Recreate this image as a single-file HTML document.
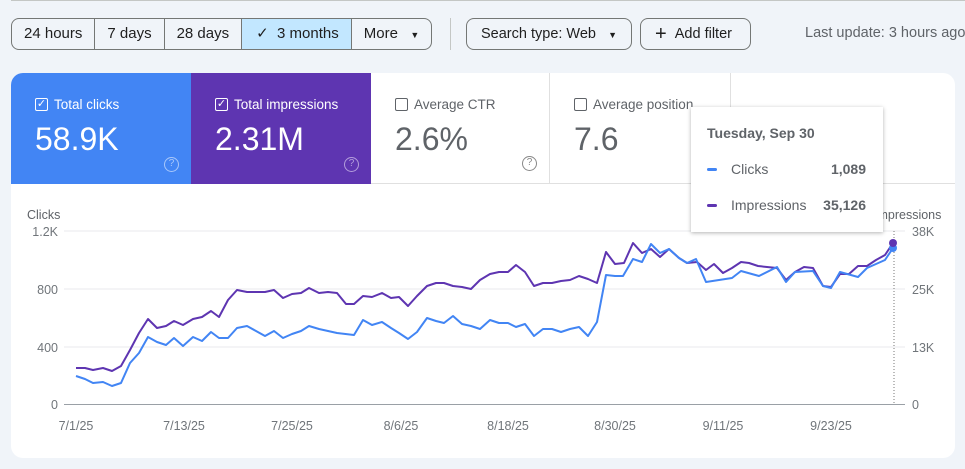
<!DOCTYPE html>
<html><head><style>
*{box-sizing:border-box;margin:0;padding:0}
body{width:965px;height:469px;background:#f0f4f9;font-family:"Liberation Sans",sans-serif;position:relative;overflow:hidden;color:#444}
.topline{position:absolute;left:11px;right:0;top:0;height:2px;border-top:1px solid #c4c7c5}
.seg{position:absolute;top:18px;height:32px;display:flex;border:1px solid #747775;border-radius:8px;overflow:hidden;left:11px;white-space:nowrap}
.seg div{border-right:1px solid #747775;padding:0 12px;line-height:30px;font-size:15px;color:#1f1f1f}
.seg div:last-child{border-right:none}
.btn{position:absolute;top:18px;height:32px;border:1px solid #747775;border-radius:8px;line-height:30px;font-size:14.5px;color:#1f1f1f;padding:0 14px;white-space:nowrap}
.card{position:absolute;left:11px;top:73px;width:944px;height:385px;background:#fff;border-radius:12px;overflow:hidden}
.tile{position:absolute;top:0;height:111px;padding:24px 0 0 24px}
.tile .l{font-size:13.5px;display:flex;align-items:center;gap:6px}
.tile .v{font-size:32px;margin-top:9px}
.cb{width:13px;height:13px;border:1.5px solid #fff;border-radius:2px;display:inline-block;position:relative;font-size:11px;line-height:10px;text-align:center}
.q{position:absolute;right:12px;bottom:12px;width:15px;height:15px;border-radius:50%;border:1.5px solid;font-size:10px;text-align:center;line-height:12px}
.tip{position:absolute;left:691px;top:107px;width:192px;height:125px;background:#fff;box-shadow:0 1px 4px rgba(0,0,0,.3);font-size:14px;color:#5f6368}
</style></head><body>
<div class="topline"></div>
<div class="seg"><div>24 hours</div><div>7 days</div><div>28 days</div><div style="background:#c2e7ff;padding:0 12px 0 14px">✓&nbsp;&nbsp;3 months</div><div>More&nbsp;&nbsp;&nbsp;<span style="font-size:9px">▼</span></div></div>
<div style="position:absolute;left:450px;top:18px;height:32px;border-left:1px solid #c4c7c5"></div>
<div class="btn" style="left:466px;width:166px">Search type: Web&nbsp;&nbsp;&nbsp;<span style="font-size:9px">▼</span></div>
<div class="btn" style="left:640px;width:111px"><span style="font-size:20px;vertical-align:-2px">+</span>&nbsp;&nbsp;Add filter</div>
<div style="position:absolute;left:805px;top:25px;font-size:14.5px;color:#5f6368;white-space:nowrap">Last update: 3 hours ago</div>
<div class="card">
<div class="tile" style="left:0;width:180px;background:#4285f4;color:#fff"><div class="l"><span class="cb">✓</span>Total clicks</div><div class="v">58.9K</div><div class="q" style="border-color:#a8c7fa;color:#a8c7fa">?</div></div>
<div class="tile" style="left:180px;width:180px;background:#5e35b1;color:#fff"><div class="l"><span class="cb">✓</span>Total impressions</div><div class="v">2.31M</div><div class="q" style="border-color:#b39ddb;color:#b39ddb">?</div></div>
<div class="tile" style="left:360px;width:179px;color:#5f6368;border-bottom:1px solid #e0e0e0;border-right:1px solid #e0e0e0"><div class="l"><span class="cb" style="border-color:#5f6368"></span>Average CTR</div><div class="v">2.6%</div><div class="q" style="border-color:#888;color:#888">?</div></div>
<div class="tile" style="left:539px;width:181px;color:#5f6368;border-bottom:1px solid #e0e0e0;border-right:1px solid #e0e0e0"><div class="l"><span class="cb" style="border-color:#5f6368"></span>Average position</div><div class="v">7.6</div></div>
<div style="position:absolute;left:720px;top:110px;width:224px;border-bottom:1px solid #e0e0e0"></div>
</div>
<svg style="position:absolute;left:0;top:0" width="965" height="469" font-family="Liberation Sans,sans-serif" font-size="12.5" fill="#70757a">
<g stroke="#e8eaed"><line x1="64" x2="905" y1="231" y2="231"/><line x1="64" x2="905" y1="289" y2="289"/><line x1="64" x2="905" y1="347" y2="347"/></g>
<line x1="64" x2="905" y1="404.5" y2="404.5" stroke="#9aa0a6"/>
<line x1="894" x2="894" y1="231" y2="404" stroke="#777" stroke-dasharray="1,2"/>
<text x="27" y="219" fill="#5f6368">Clicks</text>
<g text-anchor="end"><text x="58" y="236">1.2K</text><text x="58" y="294">800</text><text x="58" y="352">400</text><text x="58" y="409">0</text></g>
<text x="874" y="219" fill="#5f6368">Impressions</text>
<g><text x="912" y="236">38K</text><text x="912" y="294">25K</text><text x="912" y="352">13K</text><text x="912" y="409">0</text></g>
<g text-anchor="middle"><text x="76" y="430">7/1/25</text><text x="184" y="430">7/13/25</text><text x="292" y="430">7/25/25</text><text x="401" y="430">8/6/25</text><text x="508" y="430">8/18/25</text><text x="615" y="430">8/30/25</text><text x="723" y="430">9/11/25</text><text x="831" y="430">9/23/25</text></g>
<polyline fill="none" stroke="#5e35b1" stroke-width="2" stroke-linejoin="round" points="76,368 85,368 93,370 103,368 112,371 121,366 130,350 139,333 148,319 157,328 166,326 174,321 183,325 193,319 202,317 211,311 219,317 228,300 237,290 247,292 265,292 274,290 283,298 292,294 301,293 309,288 319,293 328,292 337,293 346,304 354,304 363,296 372,297 382,293 391,298 399,297 408,306 417,296 427,286 436,283 444,283 453,286 462,287 471,289 480,280 490,274 499,272 508,272 516,265 525,272 534,286 543,283 552,283 561,281 570,280 579,276 588,279 597,283 606,252 615,264 624,263 633,243 642,253 651,249 660,257 669,249 679,258 687,263 697,262 706,270 714,264 723,273 732,268 741,262 749,263 758,266 767,267 777,268 786,280 795,272 804,267 813,268 823,286 831,287 840,274 849,274 858,266 867,266 876,260 885,255 893,243"/>
<polyline fill="none" stroke="#4285f4" stroke-width="2" stroke-linejoin="round" points="76,376 85,379 93,383 103,382 112,386 121,383 130,363 139,353 148,337 157,342 166,345 174,338 183,346 193,337 202,341 211,332 219,338 228,338 237,328 247,326 256,331 265,336 274,331 283,338 292,334 301,331 309,326 319,329 328,331 337,333 354,335 363,320 372,325 382,322 391,328 399,333 408,339 417,332 427,318 436,321 444,323 453,316 462,324 471,326 480,329 490,320 499,323 508,323 516,327 525,324 534,336 543,329 552,329 561,332 570,329 579,327 588,336 597,322 606,275 615,276 623,276 633,259 642,262 651,244 660,253 669,249 679,258 687,263 696,259 706,282 732,278 741,271 759,276 777,267 786,282 795,272 813,271 823,286 831,288 840,272 858,277 867,268 885,260 893,248"/>
<circle cx="893" cy="248" r="4" fill="#4285f4"/><circle cx="893" cy="243" r="4" fill="#5e35b1"/>
</svg>
<div class="tip">
<div style="position:absolute;left:16px;top:18px;font-weight:bold;color:#5f6368">Tuesday, Sep 30</div>
<div style="position:absolute;left:16px;top:61px;width:10px;height:3px;background:#4285f4;border-radius:2px"></div>
<div style="position:absolute;left:40px;top:54px">Clicks</div><div style="position:absolute;right:17px;top:54px;font-weight:bold">1,089</div>
<div style="position:absolute;left:16px;top:97px;width:10px;height:3px;background:#5e35b1;border-radius:2px"></div>
<div style="position:absolute;left:40px;top:90px">Impressions</div><div style="position:absolute;right:17px;top:90px;font-weight:bold">35,126</div>
</div>
</body></html>
